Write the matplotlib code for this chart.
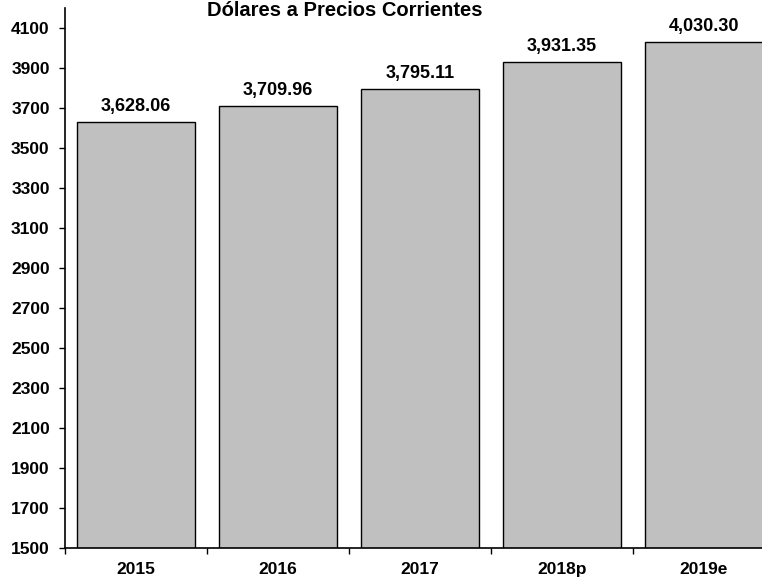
import matplotlib.pyplot as plt
import numpy as np

# data
years = ["2015", "2016", "2017", "2018p", "2019e"]
values = [3628.06, 3709.96, 3795.11, 3931.35, 4030.30]
y_ticks = list(range(1500, 4101, 200))

plt.rcParams['font.family'] = ['Liberation Sans', 'DejaVu Sans']
plt.rcParams['font.weight'] = 'bold'

fig = plt.figure(figsize=(7.62, 5.77), dpi=100)
# axes runs slightly past the right edge, like the original
ax = fig.add_axes([65 / 762, 29 / 577, 710 / 762, 540 / 577])

x = np.arange(len(years))
bars = ax.bar(x, values, width=0.83, color='#C0C0C0', edgecolor='black',
              linewidth=1.0, bottom=0)

for xi, v in zip(x, values):
    ax.annotate(f"{v:,.2f}", xy=(xi, v), xytext=(0, 8), textcoords='offset points',
                ha='center', va='baseline', fontsize=13, fontweight='bold')

ax.set_ylim(1500, 4200)
ax.set_xlim(-0.5, len(years) - 0.5)
ax.set_yticks(y_ticks)
ax.set_yticklabels([str(t) for t in y_ticks], fontsize=12.5, fontweight='bold')

ax.set_xticks(x)
ax.set_xticklabels(years, fontsize=12.5, fontweight='bold')
ax.tick_params(axis='x', which='major', length=0, pad=10)
ax.set_xticks(np.arange(-0.5, len(years), 1.0), minor=True)
ax.tick_params(axis='x', which='minor', length=4, width=1, direction='out')
ax.tick_params(axis='y', length=4, width=1, direction='out', pad=7)

for side in ['top', 'right']:
    ax.spines[side].set_visible(False)
for side in ['left', 'bottom']:
    ax.spines[side].set_linewidth(1.2)

fig.text(345 / 762, 1 - 11 / 577, "Dólares a Precios Corrientes", ha='center', va='center',
         fontsize=14.5, fontweight='bold')

plt.savefig("out.png", dpi=100)
